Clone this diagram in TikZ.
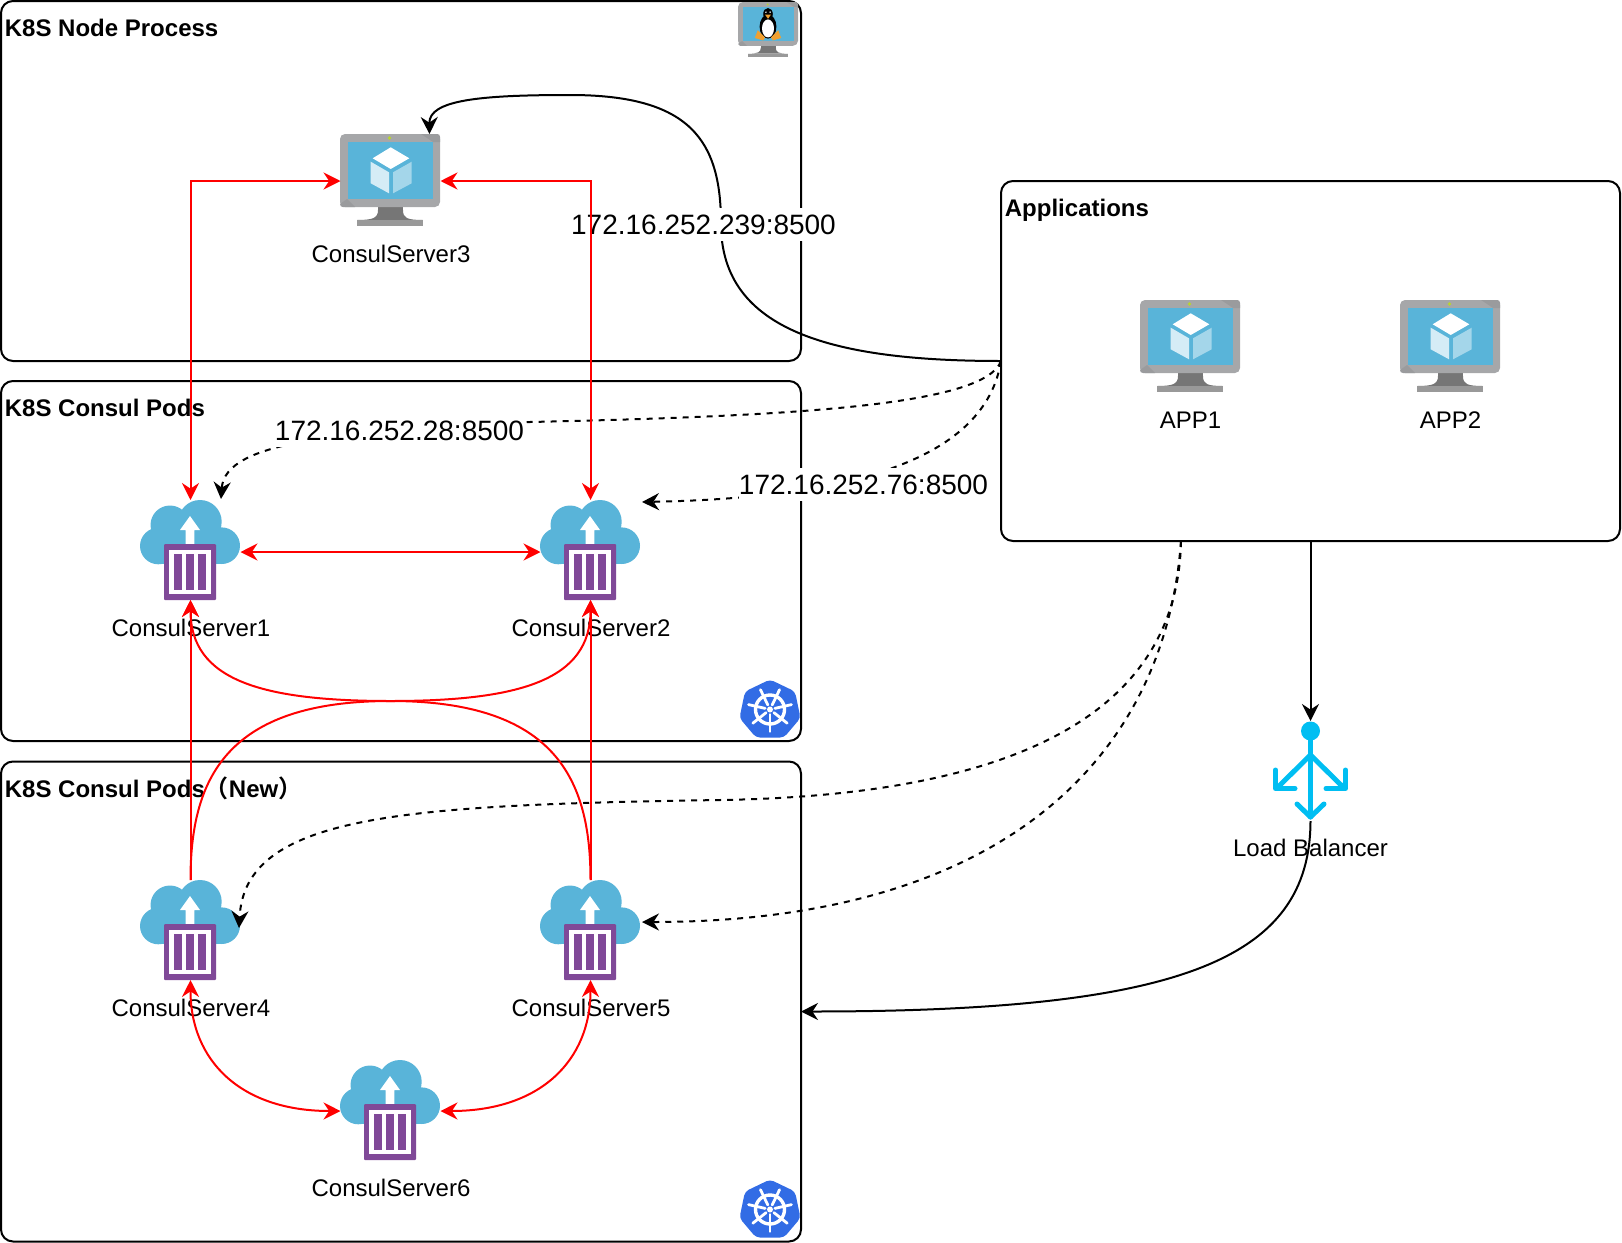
\documentclass[tikz,border=0pt]{standalone}
\usepackage{fontspec}
\setmainfont{Liberation Sans}
\newfontfamily\cjkparen{Noto Sans CJK SC}[BoldFont={Noto Sans CJK SC Bold}]
\usetikzlibrary{arrows.meta}
\definecolor{azblue}{HTML}{59B4D9}
\definecolor{mongray}{HTML}{A6A7A9}
\definecolor{mondark}{HTML}{9A9B9D}
\definecolor{neckgray}{HTML}{767676}
\definecolor{basegray}{HTML}{999999}
\definecolor{ledgreen}{HTML}{B8D432}
\definecolor{contpurple}{HTML}{804998}
\definecolor{kblue}{HTML}{326CE5}
\definecolor{lbcyan}{HTML}{00BEF2}
\definecolor{tuxorange}{HTML}{F0A030}
\tikzset{
  box/.style={draw=black,line width=1pt,rounded corners=6pt,inner sep=0pt,outer sep=0pt},
  holder/.style={inner sep=0pt,outer sep=0pt,minimum width=50pt},
  lbl/.style={font=\fontsize{12}{14}\selectfont,inner sep=0pt},
  ttl/.style={font=\fontsize{12}{14}\selectfont\bfseries,inner sep=0pt,anchor=west},
  ip/.style={font=\fontsize{14}{16}\selectfont,fill=white,inner sep=0pt,minimum height=16.5pt},
  tipa/.style={-{Stealth[length=8.5pt,width=8.5pt,inset=2.8pt]}},
  redbi/.style={draw=red,line width=1pt,{Stealth[length=8.5pt,width=8.5pt,inset=2.8pt]}-{Stealth[length=8.5pt,width=8.5pt,inset=2.8pt]}},
  redone/.style={draw=red,line width=1pt,tipa},
  blk/.style={draw=black,line width=1pt,tipa},
  blkdash/.style={draw=black,line width=1pt,tipa,dash pattern=on 3pt off 3pt},
}
% monitor, origin top-left, 100 x 92
\newcommand{\monitorshape}{%
  \fill[neckgray] (38,72) -- (63,72) -- (63,82) -- (38,82) -- cycle;
  \fill[neckgray] (38,76) .. controls (38,84) and (33,86) .. (17,86) -- (83,86) .. controls (67,86) and (63,84) .. (63,76) -- cycle;
  \fill[basegray] (17,86) rectangle (83,92);
  \fill[mongray,rounded corners=2.5pt] (0,0) rectangle (100,73);
  \fill[mondark] (81,0) -- (97,0) .. controls (99,0) and (100,1) .. (100,3) -- (100,8) -- (93,8) -- cycle;
  \fill[mondark] (7,65) -- (15,73) -- (3,73) .. controls (1,73) and (0,72) .. (0,70) -- cycle;
  \fill[azblue] (7.5,7.5) rectangle (92.7,65.3);
  \fill[ledgreen] (49.5,4) circle (1.8);
}
\newcommand{\vmicon}[2]{%
  \begin{scope}[shift={(#1,#2)}]
    \monitorshape
    \fill[white] (50.7,13.3) -- (69.3,24.3) -- (50.7,35) -- (32.7,24.3) -- cycle;
    \fill[white!75!azblue] (30.7,27.7) -- (49,38.3) -- (49,59.3) -- (30.7,49.3) -- cycle;
    \fill[white!45!azblue] (53,38.3) -- (71.7,27.7) -- (71.7,49.3) -- (53,59.3) -- cycle;
  \end{scope}}
\newcommand{\contnicon}[2]{%
  \begin{scope}[shift={(#1,#2)}]
    \fill[azblue] (60,21.7) circle (21.7) (30,25) circle (19.5) (18.3,46) circle (18.3) (81.7,45.7) circle (18.3);
    \fill[azblue] (18,40) rectangle (82,64);
    \fill[azblue] (30,22) rectangle (62,45);
    \fill[white] (50,16) -- (60,30) -- (54.3,30) -- (54.3,46) -- (45.7,46) -- (45.7,30) -- (40,30) -- cycle;
    \fill[contpurple,rounded corners=0.5pt] (24,44) rectangle (76,100);
    \fill[white] (29.3,50) rectangle (70.7,94);
    \fill[contpurple] (34,54) rectangle (42,90);
    \fill[contpurple] (46,54) rectangle (54,90);
    \fill[contpurple] (58,54) rectangle (66,90);
  \end{scope}}
\newcommand{\kubeicon}[2]{%
  \begin{scope}[shift={(#1,#2)}]
    \fill[kblue,rounded corners=2pt]
      (0,-30) -- (25,-18) -- (30.5,8.5) -- (14,28) -- (-14,28) -- (-30.5,8.5) -- (-25,-18) -- cycle;
    \draw[white,line width=1.7pt] (0,0) circle (14.5);
    \fill[white] (0,0) circle (3);
    \foreach \ang in {90,141.43,192.86,244.29,295.71,347.14,38.57}
      \draw[white,line width=1.4pt,line cap=round] (\ang:5) -- (\ang:22);
  \end{scope}}
\begin{document}
\begin{tikzpicture}[x=0.5pt,y=-0.5pt]
\useasboundingbox (0,0) rectangle (1622,1242);
% containers
\node[box,minimum width=400pt,minimum height=180pt] (proc) at (401,181) {};
\node[box,minimum width=400pt,minimum height=180pt] (pods) at (401,561) {};
\node[box,minimum width=400pt,minimum height=240pt] (newpods) at (401,1001.5) {};
\node[box,minimum width=309.5pt,minimum height=180pt] (apps) at (1310.5,361) {};
\node[ttl] (t1) at (4.5,27.5) {K8S Node Process};
\node[ttl] (t2) at (4.5,407.5) {K8S Consul Pods};
\node[ttl] (t3) at (4.5,788.5) {K8S Consul Pods{\cjkparen（}New{\cjkparen）}};
\node[ttl] (t4) at (1004.5,210.5) {Applications};
% icons
\begin{scope}[shift={(738,2)},scale=0.6]
  \monitorshape
  \fill[black] (50,20) ellipse (8 and 10);
  \fill[black] (50,41) ellipse (14 and 20);
  \fill[white] (50,44) ellipse (10 and 15);
  \fill[tuxorange] (45,21) -- (55,21) -- (50,28) -- cycle;
  \fill[white] (46.5,17) circle (1.4) (53.5,17) circle (1.4);
  \fill[tuxorange] (33,47) -- (45,59) -- (42,64) -- (28,60) -- cycle;
  \fill[tuxorange] (67,47) -- (55,59) -- (58,64) -- (72,60) -- cycle;
\end{scope}
\vmicon{340}{134}
\vmicon{1140}{300}
\vmicon{1400}{300}
\contnicon{140}{500}
\contnicon{540}{500}
\contnicon{140}{880}
\contnicon{540}{880}
\contnicon{340}{1060}
\kubeicon{770}{709.5}
\kubeicon{770}{1209.5}
% Load balancer icon
\node[holder,minimum height=50pt] (lb) at (1310.5,771) {};
\begin{scope}[draw=lbcyan,line width=2.5pt,line cap=round,line join=round]
  \fill[lbcyan] (1310.5,731) circle (9.5);
  \draw (1310.5,731) -- (1310.5,817);
  \draw (1310.5,755) -- (1278,787);
  \draw (1310.5,755) -- (1343,787);
  \draw (1275.5,770) -- (1275.5,788.5) -- (1295,788.5);
  \draw (1345.5,770) -- (1345.5,788.5) -- (1326,788.5);
  \draw (1297,804) -- (1310.5,817) -- (1324,804);
\end{scope}
% placeholders for connector ends
\node[holder,minimum height=47pt] (cs3) at (390.5,181) {};
\node[holder,minimum height=46pt] (app1) at (1190.5,346) {};
\node[holder,minimum height=46pt] (app2) at (1450.5,346) {};
\node[holder,minimum height=50pt] (cs1) at (190.5,550) {};
\node[holder,minimum height=50pt] (cs2) at (590.5,550) {};
\node[holder,minimum height=50pt] (cs4) at (190.5,930) {};
\node[holder,minimum height=50pt] (cs5) at (590.5,930) {};
\node[holder,minimum height=50pt] (cs6) at (390.5,1111) {};
% labels
\node[lbl] (l3) at (391,254) {ConsulServer3};
\node[lbl] (l1) at (191,628) {ConsulServer1};
\node[lbl] (l2) at (591,628) {ConsulServer2};
\node[lbl] (l4) at (191,1008) {ConsulServer4};
\node[lbl] (l5) at (591,1008) {ConsulServer5};
\node[lbl] (l6) at (391,1188) {ConsulServer6};
\node[lbl] (la1) at (1190.5,420) {APP1};
\node[lbl] (la2) at (1450.5,420) {APP2};
\node[lbl] (llb) at (1310.5,848) {Load Balancer};
% black connectors
\draw[blk] (apps.west) .. controls (835,361) and (721,332) .. (721,224)
  .. controls (721,140) and (690,95) .. (570,95)
  .. controls (480,95) and (429,100) .. ([xshift=-5.5pt]cs3.north east);
\draw[blkdash] (apps.west) .. controls (985,405) and (800,416) .. (530,422)
  .. controls (345,432) and (225,440) .. (221,499);
\draw[blkdash] (apps.west) .. controls (985,460) and (850,498) .. (642,502);
\draw[blk] (apps.south) -- (1310.5,721);
\draw[blkdash] ([xshift=-64.75pt]apps.south) .. controls (1178,700) and (1040,795) .. (720,800)
  .. controls (400,805) and (245,815) .. (239,928);
\draw[blkdash] ([xshift=-64.75pt]apps.south) .. controls (1165,760) and (1000,922) .. (642,922);
\draw[blk] (lb.south) .. controls (1310,960) and (1180,1011.5) .. ([yshift=-5pt]newpods.east);
% IP labels
\node[ip] (ip1) at (703.5,224.7) {172.16.252.239:8500};
\node[ip] (ip2) at (399.5,430.7) {172.16.252.28:8500};
\node[ip] (ip3) at (863.5,484.7) {172.16.252.76:8500};
% red connectors
\draw[redbi] (cs3.west) -| (cs1.north);
\draw[redbi] (cs3.east) -| (cs2.north);
\draw[redbi] ([yshift=-1pt]cs1.east) -- ([yshift=-1pt]cs2.west);
\draw[redone] (cs4.north) -- (cs1.south);
\draw[redone] (cs5.north) -- (cs2.south);
\draw[redone] (cs4.north) .. controls (190.5,780) and (225,701) .. (390.5,701)
  .. controls (520,701) and (590.5,680) .. (cs2.south);
\draw[redone] (cs5.north) .. controls (590.5,780) and (556,701) .. (390.5,701)
  .. controls (261,701) and (190.5,680) .. (cs1.south);
\draw[redbi] (cs4.south) .. controls (190.5,1060) and (240,1111) .. (cs6.west);
\draw[redbi] (cs5.south) .. controls (590.5,1060) and (541,1111) .. (cs6.east);
\end{tikzpicture}
\end{document}
